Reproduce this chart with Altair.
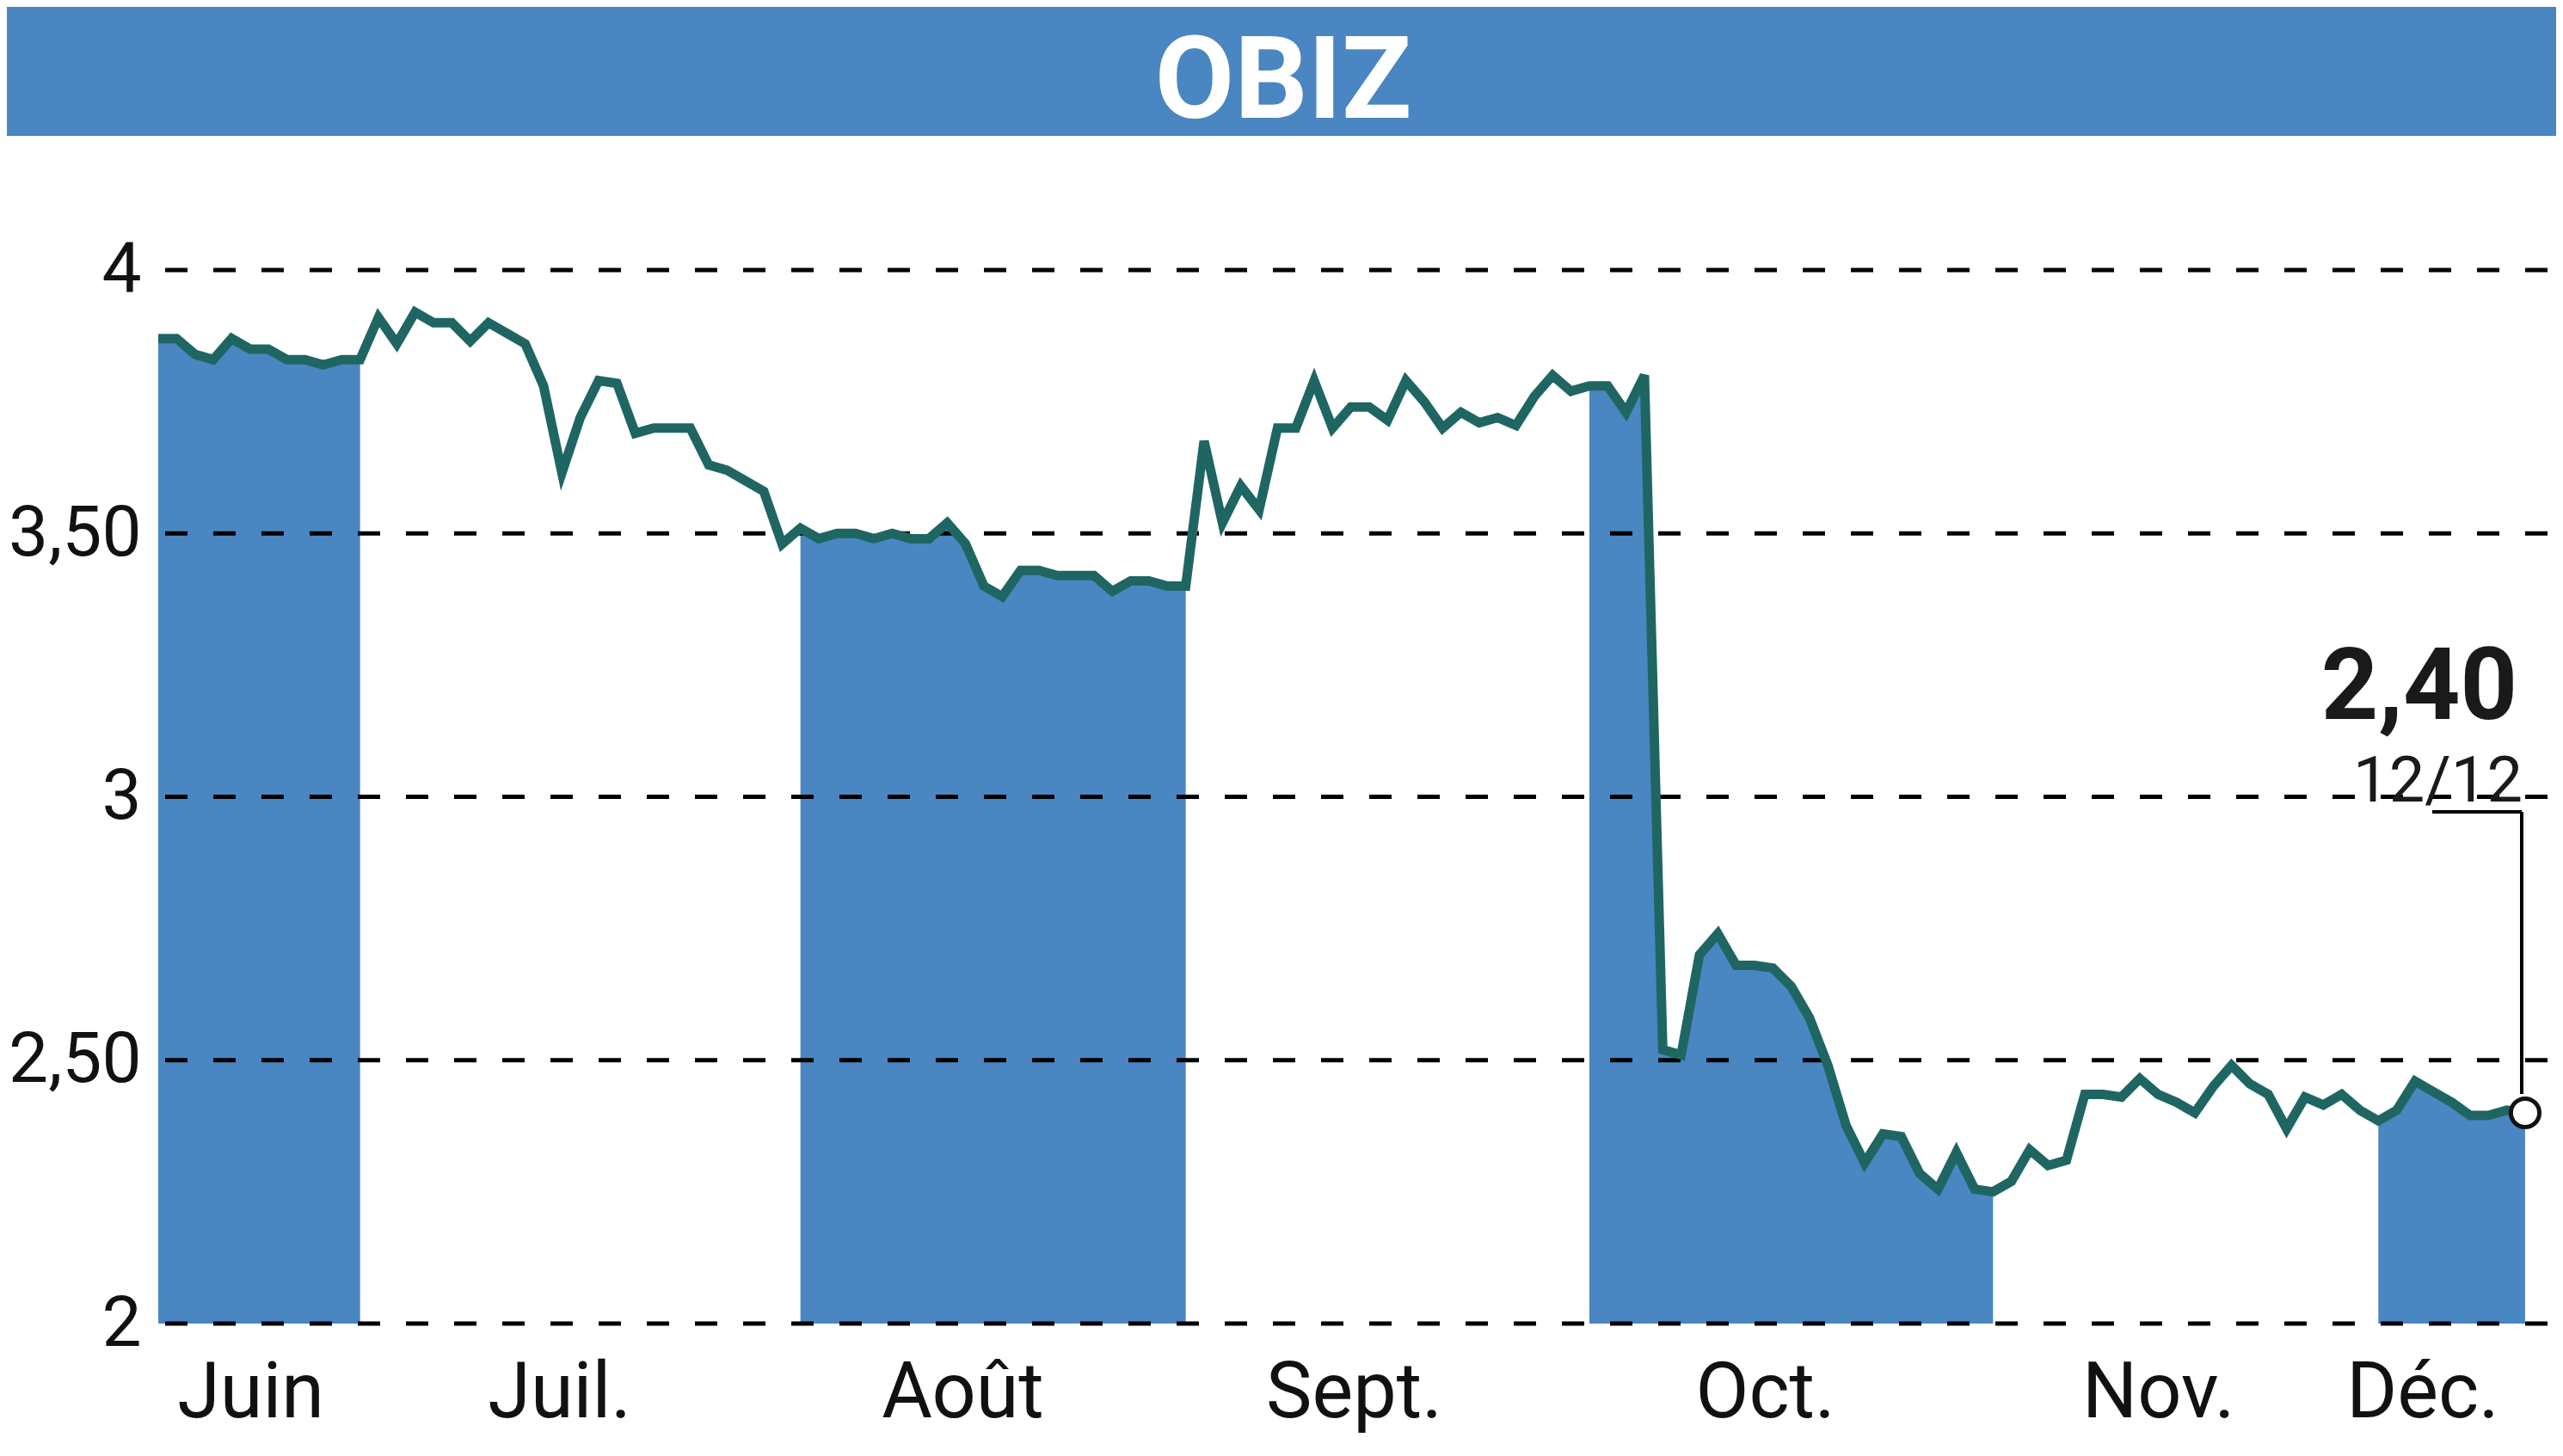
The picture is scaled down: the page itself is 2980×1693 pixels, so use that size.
import altair as alt
import pandas as pd

# ---------------- data ----------------
months = ["Juin", "Juil.", "Août", "Sept.", "Oct.", "Nov.", "Déc."]
shaded_months = ["Juin", "Août", "Oct.", "Déc."]

juin = [3.87, 3.87, 3.84, 3.83, 3.87, 3.85, 3.85, 3.83, 3.83, 3.82, 3.83, 3.83]
juil = [3.91, 3.86, 3.92, 3.90, 3.90, 3.865, 3.90, 3.88, 3.86, 3.78, 3.615, 3.72,
        3.79, 3.785, 3.69, 3.70, 3.70, 3.70, 3.63, 3.62, 3.60, 3.58, 3.48]
aout = [3.51, 3.49, 3.50, 3.50, 3.49, 3.50, 3.49, 3.49, 3.52, 3.48, 3.40, 3.38,
        3.43, 3.43, 3.42, 3.42, 3.42, 3.39, 3.41, 3.41, 3.40, 3.40]
sept = [3.675, 3.52, 3.59, 3.545, 3.70, 3.70, 3.79, 3.70, 3.74, 3.74, 3.715,
        3.79, 3.75, 3.70, 3.73, 3.71, 3.72, 3.705, 3.76, 3.80, 3.77]
octo = [3.78, 3.78, 3.73, 3.80, 2.52, 2.51, 2.70, 2.74, 2.68, 2.68, 2.675, 2.64,
        2.58, 2.49, 2.375, 2.305, 2.36, 2.355, 2.285, 2.255, 2.325, 2.255, 2.25]
nov = [2.27, 2.33, 2.30, 2.31, 2.435, 2.435, 2.43, 2.465, 2.435, 2.42, 2.40,
       2.45, 2.49, 2.455, 2.435, 2.37, 2.43, 2.415, 2.435, 2.405]
dec = [2.385, 2.405, 2.46, 2.44, 2.42, 2.395, 2.395, 2.405, 2.40]
series_by_month = [juin, juil, aout, sept, octo, nov, dec]

month_label_pos = [5.02, 21.85, 43.83, 65.16, 87.57, 109.0, 123.4]
y_ticks = [2, 2.5, 3, 3.5, 4]
y_tick_labels = ["2", "2,50", "3", "3,50", "4"]
title_text = "OBIZ"
last_date_label = "12/12"

rows = []
idx = 0
for m, vals in zip(months, series_by_month):
    for v in vals:
        rows.append({"i": idx, "price": v, "month": m})
        idx += 1
df = pd.DataFrame(rows)
last_i = idx - 1
last_price = df["price"].iloc[-1]
last_price_label = f"{last_price:.2f}".replace(".", ",")

grid_df = pd.DataFrame({"i": [0] * len(y_ticks), "price": y_ticks})
one = pd.DataFrame({"a": [0]})

# ---------------- styling ----------------
FONT = "Roboto"
BLUE = "#4a86c2"
TEAL = "#1f6663"
W, H = 2788, 1225

xscale = alt.Scale(domain=[0, 130.69], nice=False, zero=False)
yscale = alt.Scale(domain=[2, 4], nice=False, zero=False)

xexpr = ""
for k, name in enumerate(months):
    if k < len(months) - 1:
        mid = (month_label_pos[k] + month_label_pos[k + 1]) / 2
        xexpr += f"datum.value < {mid} ? '{name}' : "
    else:
        xexpr += f"'{name}'"
yexpr = ""
for t, lab in zip(y_ticks, y_tick_labels):
    yexpr += f"abs(datum.value - {t}) < 0.01 ? '{lab}' : "
yexpr += "datum.label"

x_axis = alt.Axis(values=month_label_pos, labelExpr=xexpr, domain=False, ticks=False,
                  tickSize=0, grid=False, labelFont=FONT, labelFontSize=90,
                  labelColor="#111111", labelPadding=108, labelBaseline="alphabetic",
                  labelOverlap=False, labelFlush=False, labelLimit=0, title=None)
y_axis = alt.Axis(values=y_ticks, labelExpr=yexpr, domain=False, ticks=False,
                  tickSize=0, grid=False, labelFont=FONT, labelFontSize=82,
                  labelColor="#111111", labelPadding=20, labelOverlap=False,
                  labelFlush=False, labelLimit=0, title=None)

X = alt.X("i:Q", scale=xscale, axis=x_axis)
Y = alt.Y("price:Q", scale=yscale, axis=y_axis)

base = alt.Chart(df)

bar = alt.Chart(one).mark_rect(color=BLUE).encode(
    x=alt.value(-176), x2=alt.value(W), y=alt.value(-306), y2=alt.value(-156))
title = alt.Chart(one).mark_text(
    text=title_text, font=FONT, fontSize=134, fontWeight="bold", color="white",
    align="center", baseline="alphabetic").encode(x=alt.value(1308), y=alt.value(-177))

bands = base.transform_filter(
    alt.FieldOneOfPredicate(field="month", oneOf=shaded_months)
).mark_area(color=BLUE, opacity=1, interpolate="linear").encode(
    x=X, y=Y, y2=alt.datum(2), detail="month:N",
)

grid = alt.Chart(grid_df).mark_rule(
    color="black", strokeWidth=5, strokeDash=[26, 30], strokeDashOffset=46
).encode(y=Y)

line = base.mark_line(color=TEAL, strokeWidth=11, strokeJoin="miter").encode(x=X, y=Y)

lead_h = alt.Chart(one).mark_rule(color="black", strokeWidth=4).encode(
    x=alt.value(2644), x2=alt.value(2748), y=alt.value(630))
lead_v = alt.Chart(one).mark_rule(color="black", strokeWidth=4).encode(
    x=alt.value(2748), y=alt.value(630), y2=alt.value(958))

dot = base.transform_filter(alt.datum.i == last_i).mark_point(
    shape="circle", size=1100, filled=True, fill="white", stroke="#111111",
    strokeWidth=5, opacity=1, fillOpacity=1
).encode(x=X, y=Y)

price_txt = alt.Chart(one).mark_text(
    text=last_price_label, font=FONT, fontSize=116, fontWeight="bold", color="#1a1a1a",
    align="right", baseline="alphabetic").encode(x=alt.value(2743), y=alt.value(522))
date_txt = alt.Chart(one).mark_text(
    text=last_date_label, font=FONT, fontSize=74, color="#1a1a1a",
    align="right", baseline="alphabetic").encode(x=alt.value(2749), y=alt.value(618))

chart = alt.layer(
    bands, grid, line, bar, title, lead_h, lead_v, dot, price_txt, date_txt
).properties(
    width=W, height=H,
    autosize=alt.AutoSizeParams(type="none"),
    padding={"left": 176, "top": 306, "right": 0, "bottom": 130},
    background="white",
).configure_view(stroke=None)

chart.save("out.html", embed_options={"renderer": "svg", "actions": False})
